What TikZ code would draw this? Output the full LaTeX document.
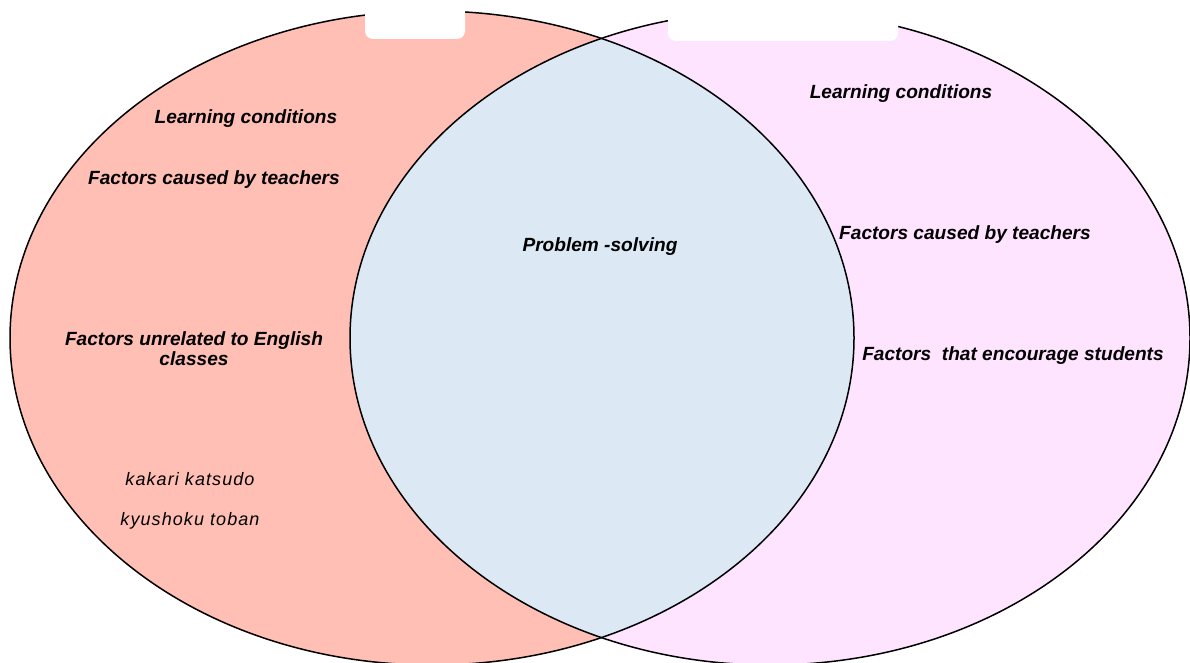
\documentclass[tikz,border=0pt]{standalone}
\usepackage{fontspec}
\setmainfont{Liberation Sans}
\newfontfamily\spacedsans[LetterSpace=6]{Liberation Sans}
\definecolor{leftset}{HTML}{FFBFB4}
\definecolor{rightset}{HTML}{FFE4FF}
\definecolor{overlap}{HTML}{DCE9F5}
\begin{document}
\begin{tikzpicture}[x=1pt,y=-1pt,
  heading/.style={font=\fontsize{19.1}{23}\selectfont\bfseries\itshape, align=center, inner sep=0pt},
  term/.style={font=\spacedsans\fontsize{18}{22}\selectfont\itshape, inner sep=0pt},
  outline/.style={draw=black, line width=1.5pt},
  tab/.style={fill=white, rounded corners=8pt}]
\useasboundingbox (0,0) rectangle (1190,663);
% the two sets and their overlap
\fill[leftset] (432,338) ellipse [x radius=422pt, y radius=327pt];
\fill[rightset] (770,338) ellipse [x radius=420pt, y radius=327pt];
\begin{scope}
  \clip (432,338) ellipse [x radius=422pt, y radius=327pt];
  \fill[overlap] (770,338) ellipse [x radius=420pt, y radius=327pt];
\end{scope}
\draw[outline] (432,338) ellipse [x radius=422pt, y radius=327pt];
\draw[outline] (770,338) ellipse [x radius=420pt, y radius=327pt];
% blank title tabs
\fill[tab] (365,-20) rectangle (465,39);
\fill[tab] (668,-20) rectangle (898,41);
% left set
\node[heading] (lcondL) at (246,119) {Learning conditions};
\node[heading] (teachL) at (214,180) {Factors caused by teachers};
\node[heading] (unrel) at (194,349) {Factors unrelated to English\\[-3pt]classes};
\node[term] (kakari) at (190,479) {kakari katsudo};
\node[term] (kyu) at (190,521) {kyushoku toban};
% overlap
\node[heading] (prob) at (600,247) {Problem -solving};
% right set
\node[heading] (lcondR) at (901,94) {Learning conditions};
\node[heading] (teachR) at (965,235) {Factors caused by teachers};
\node[heading] (enc) at (1013,356) {Factors\ \ that encourage students};
\end{tikzpicture}
\end{document}
